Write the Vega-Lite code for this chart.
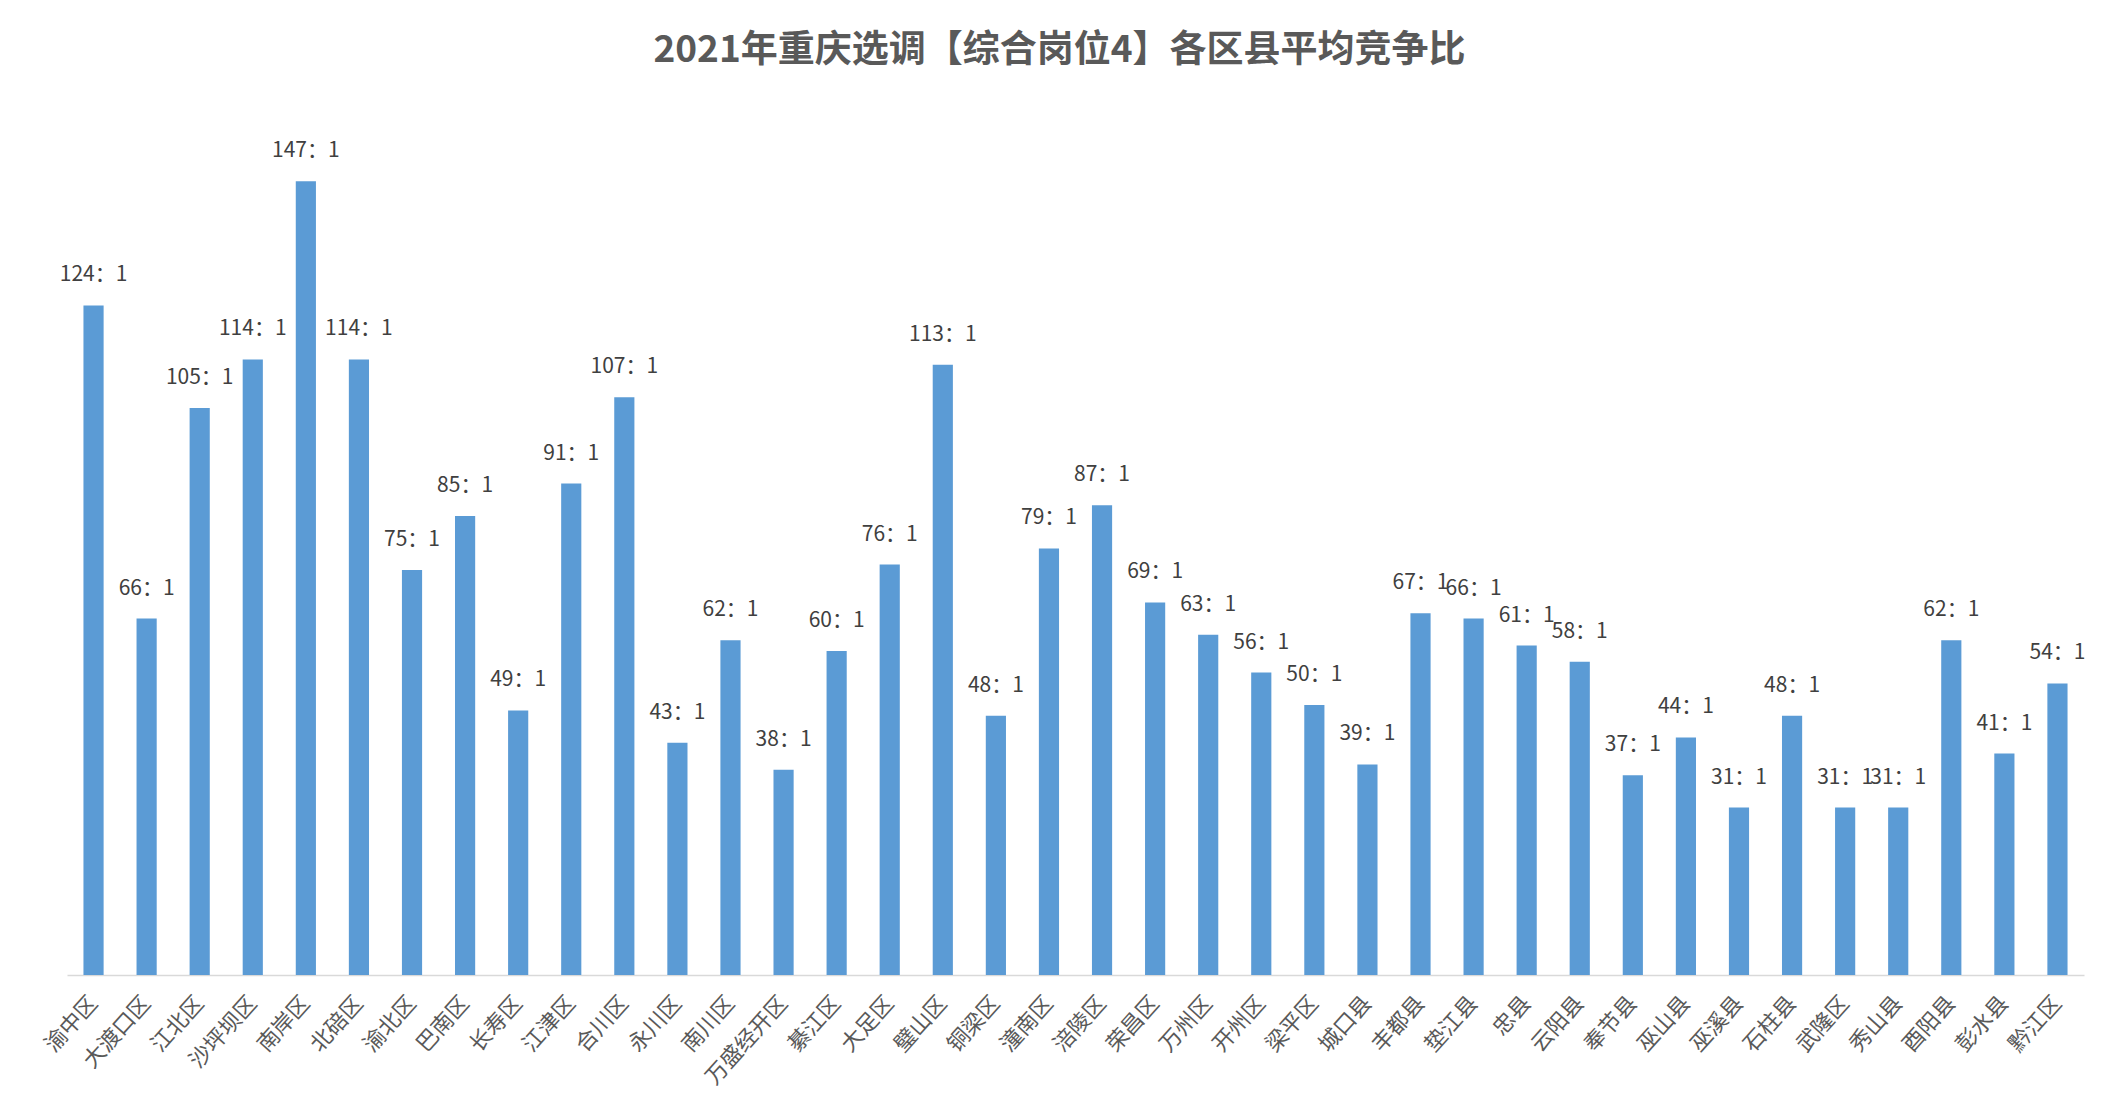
{
  "$schema": "https://vega.github.io/schema/vega-lite/v6.json",
  "autosize": {"type": "none"},
  "padding": {"left": 67, "top": 111, "right": 17, "bottom": 142},
  "width": 2017,
  "height": 864,
  "background": "white",
  "title": {
    "text": "2021年重庆选调【综合岗位4】各区县平均竞争比",
    "frame": "group",
    "anchor": "middle",
    "dx": -16,
    "offset": 41,
    "fontSize": 37,
    "fontWeight": "bold",
    "font": "Noto Sans CJK SC",
    "color": "#595959"
  },
  "config": {
    "view": {"stroke": null},
    "font": "Noto Sans CJK SC"
  },
  "data": {
    "values": [
      {"district": "渝中区", "ratio": 124, "label": "124：1"},
      {"district": "大渡口区", "ratio": 66, "label": "66：1"},
      {"district": "江北区", "ratio": 105, "label": "105：1"},
      {"district": "沙坪坝区", "ratio": 114, "label": "114：1"},
      {"district": "南岸区", "ratio": 147, "label": "147：1"},
      {"district": "北碚区", "ratio": 114, "label": "114：1"},
      {"district": "渝北区", "ratio": 75, "label": "75：1"},
      {"district": "巴南区", "ratio": 85, "label": "85：1"},
      {"district": "长寿区", "ratio": 49, "label": "49：1"},
      {"district": "江津区", "ratio": 91, "label": "91：1"},
      {"district": "合川区", "ratio": 107, "label": "107：1"},
      {"district": "永川区", "ratio": 43, "label": "43：1"},
      {"district": "南川区", "ratio": 62, "label": "62：1"},
      {"district": "万盛经开区", "ratio": 38, "label": "38：1"},
      {"district": "綦江区", "ratio": 60, "label": "60：1"},
      {"district": "大足区", "ratio": 76, "label": "76：1"},
      {"district": "璧山区", "ratio": 113, "label": "113：1"},
      {"district": "铜梁区", "ratio": 48, "label": "48：1"},
      {"district": "潼南区", "ratio": 79, "label": "79：1"},
      {"district": "涪陵区", "ratio": 87, "label": "87：1"},
      {"district": "荣昌区", "ratio": 69, "label": "69：1"},
      {"district": "万州区", "ratio": 63, "label": "63：1"},
      {"district": "开州区", "ratio": 56, "label": "56：1"},
      {"district": "梁平区", "ratio": 50, "label": "50：1"},
      {"district": "城口县", "ratio": 39, "label": "39：1"},
      {"district": "丰都县", "ratio": 67, "label": "67：1"},
      {"district": "垫江县", "ratio": 66, "label": "66：1"},
      {"district": "忠县", "ratio": 61, "label": "61：1"},
      {"district": "云阳县", "ratio": 58, "label": "58：1"},
      {"district": "奉节县", "ratio": 37, "label": "37：1"},
      {"district": "巫山县", "ratio": 44, "label": "44：1"},
      {"district": "巫溪县", "ratio": 31, "label": "31：1"},
      {"district": "石柱县", "ratio": 48, "label": "48：1"},
      {"district": "武隆区", "ratio": 31, "label": "31：1"},
      {"district": "秀山县", "ratio": 31, "label": "31：1"},
      {"district": "酉阳县", "ratio": 62, "label": "62：1"},
      {"district": "彭水县", "ratio": 41, "label": "41：1"},
      {"district": "黔江区", "ratio": 54, "label": "54：1"}
    ]
  },
  "encoding": {
    "x": {
      "field": "district",
      "type": "nominal",
      "sort": null,
      "scale": {"paddingInner": 0.62, "paddingOuter": 0.31},
      "axis": {
        "title": null,
        "ticks": false,
        "labelAngle": -48,
        "labelFontSize": 22,
        "labelColor": "#595959",
        "labelPadding": 24,
        "domainColor": "#D9D9D9",
        "domainWidth": 1.5,
        "labelFont": "Noto Sans CJK SC"
      }
    },
    "y": {
      "field": "ratio",
      "type": "quantitative",
      "scale": {"domain": [0, 160], "nice": false},
      "axis": null
    }
  },
  "layer": [
    {"mark": {"type": "bar", "color": "#5B9BD5"}},
    {
      "mark": {"type": "text", "baseline": "middle", "dy": -30, "fontSize": 21, "color": "#404040", "font": "Noto Sans CJK SC"},
      "encoding": {"text": {"field": "label", "type": "nominal"}}
    }
  ]
}
